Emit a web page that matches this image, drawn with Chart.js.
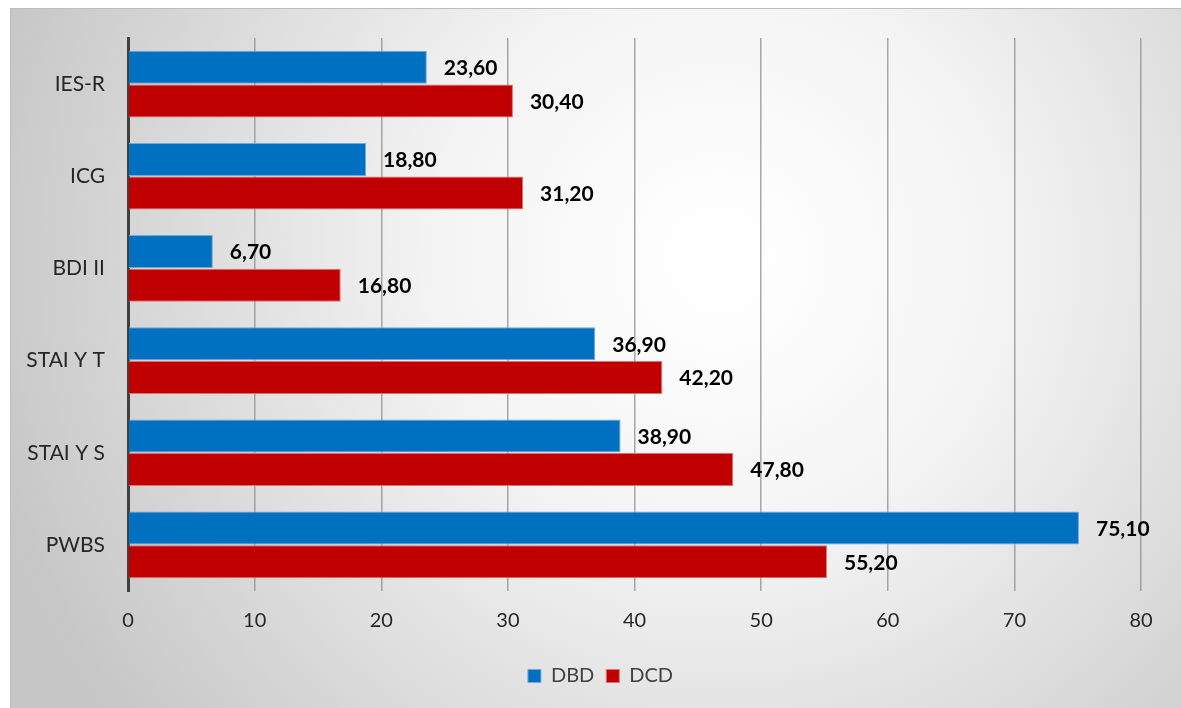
<!DOCTYPE html>
<html>
<head>
<meta charset="utf-8">
<script src="https://cdn.jsdelivr.net/npm/chart.js@4/dist/chart.umd.min.js"></script>
<style>
  html, body { margin: 0; padding: 0; background: #fff; }
  #wrap { width: 1181px; height: 708px; position: relative; }
</style>
</head>
<body>
<div id="wrap"><canvas id="scores"></canvas></div>
<script>
var categories = ["IES-R", "ICG", "BDI II", "STAI Y T", "STAI Y S", "PWBS"];
var dbdValues = [23.6, 18.8, 6.7, 36.9, 38.9, 75.1];
var dcdValues = [30.4, 31.2, 16.8, 42.2, 47.8, 55.2];
var xTicks = [0, 10, 20, 30, 40, 50, 60, 70, 80];

var FONT = "Lato, 'Open Sans', sans-serif";

// grey panel with a soft light spot in the middle
var panelBackground = {
  id: "panelBackground",
  beforeDraw: function (chart) {
    var ctx = chart.ctx;
    var w = chart.width, h = chart.height;
    ctx.save();
    ctx.fillStyle = "#ffffff";
    ctx.fillRect(0, 0, w, h);
    var g = ctx.createRadialGradient(720, 260, 20, 720, 260, 760);
    g.addColorStop(0, "#ffffff");
    g.addColorStop(0.35, "#f4f4f4");
    g.addColorStop(1, "#c6c6c6");
    ctx.fillStyle = g;
    ctx.fillRect(10, 8, w - 10, h - 8);
    ctx.strokeStyle = "#bdbdbd";
    ctx.lineWidth = 1;
    ctx.strokeRect(10.5, 8.5, w - 10, h - 8);
    ctx.restore();
  }
};

// legend sits centred on the whole panel, not on the padded area
var legendShift = {
  id: "legendShift",
  afterLayout: function (chart) {
    if (chart.legend) {
      chart.legend.left += 25;
      chart.legend.right += 25;
    }
  }
};

// bold value labels just past the end of each bar
var valueLabels = {
  id: "valueLabels",
  afterDatasetsDraw: function (chart) {
    var ctx = chart.ctx;
    ctx.save();
    ctx.font = "bold 21px " + FONT;
    ctx.fillStyle = "#000000";
    ctx.textAlign = "left";
    ctx.textBaseline = "middle";
    chart.data.datasets.forEach(function (ds, i) {
      var meta = chart.getDatasetMeta(i);
      meta.data.forEach(function (bar, j) {
        var txt = ds.data[j].toFixed(2).replace(".", ",");
        ctx.fillText(txt, bar.x + 17, bar.y + 1);
      });
    });
    ctx.restore();
  }
};

new Chart(document.getElementById("scores"), {
  type: "bar",
  data: {
    labels: categories,
    datasets: [
      {
        label: "DBD",
        data: dbdValues,
        backgroundColor: "#0070c0",
        borderColor: "#6fa8dc",
        borderWidth: 1,
        categoryPercentage: 0.73,
        barPercentage: 0.98
      },
      {
        label: "DCD",
        data: dcdValues,
        backgroundColor: "#c00000",
        borderColor: "#e07070",
        borderWidth: 1,
        categoryPercentage: 0.73,
        barPercentage: 0.98
      }
    ]
  },
  options: {
    indexAxis: "y",
    responsive: true,
    maintainAspectRatio: false,
    animation: false,
    layout: { padding: { left: 10, right: 40, top: 38, bottom: 12 } },
    scales: {
      x: {
        min: 0,
        max: 80,
        afterBuildTicks: function (scale) {
          scale.ticks = xTicks.map(function (v) { return { value: v }; });
        },
        afterFit: function (scale) { scale.height = 63; },
        grid: { color: "rgba(140,140,140,0.75)", lineWidth: 1.5, drawTicks: false },
        border: { display: false },
        ticks: {
          padding: 18,
          color: "#262626",
          font: { family: FONT, size: 20 }
        }
      },
      y: {
        afterFit: function (scale) { scale.width = 118; },
        grid: { display: false },
        border: { display: true, color: "#404040", width: 3 },
        ticks: {
          padding: 15,
          color: "#262626",
          font: { family: FONT, size: 21 }
        }
      }
    },
    plugins: {
      legend: {
        position: "bottom",
        labels: {
          boxWidth: 13,
          boxHeight: 13,
          padding: 12,
          color: "#404040",
          font: { family: FONT, size: 20 }
        }
      },
      tooltip: { enabled: false }
    }
  },
  plugins: [panelBackground, legendShift, valueLabels]
});
</script>
</body>
</html>
